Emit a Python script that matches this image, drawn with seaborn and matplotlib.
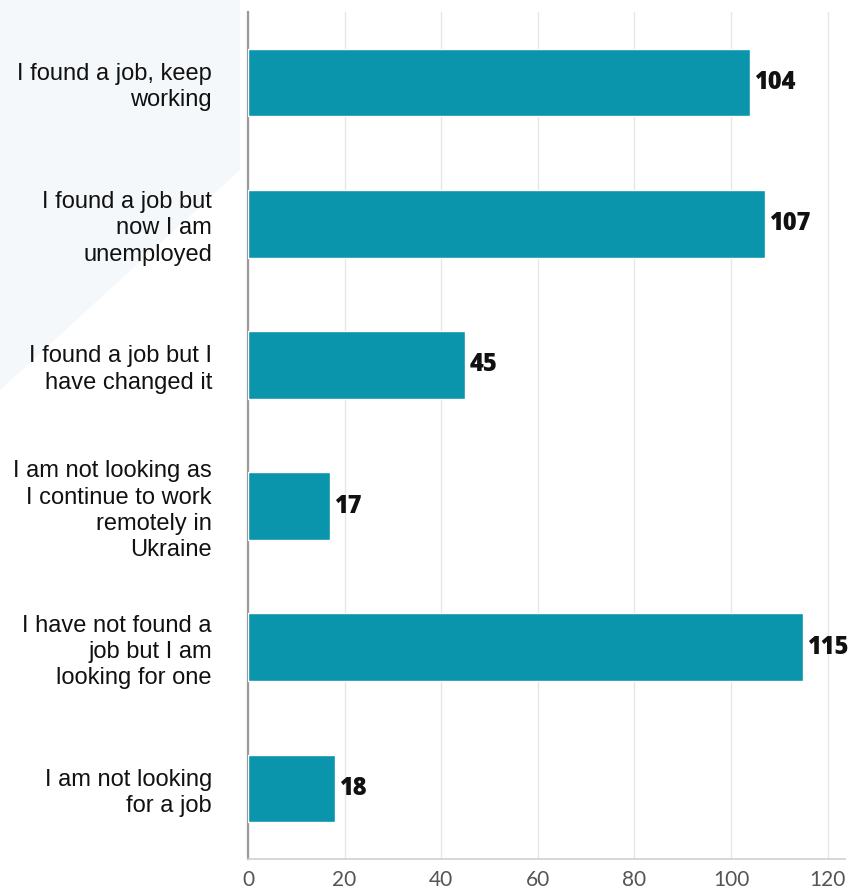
import matplotlib
matplotlib.use("Agg")
import matplotlib.pyplot as plt
from matplotlib.patches import Polygon
import seaborn as sns
import pandas as pd

categories = [
    "I found a job, keep\nworking",
    "I found a job but\nnow I am\nunemployed",
    "I found a job but I\nhave changed it",
    "I am not looking as\nI continue to work\nremotely in\nUkraine",
    "I have not found a\njob but I am\nlooking for one",
    "I am not looking\nfor a job",
]
counts = [104, 107, 45, 17, 115, 18]
x_ticks = [0, 20, 40, 60, 80, 100, 120]

df = pd.DataFrame({"answer": categories, "count": counts})

sns.set_theme(style="white")
plt.rcParams["font.family"] = ["Liberation Sans", "DejaVu Sans"]

W, H = 851, 896
fig = plt.figure(figsize=(W / 100, H / 100), dpi=100)
fig.patch.set_facecolor("white")

# faint decorative backdrop on the left
fig.patches.append(Polygon(
    [(0 / W, 1 - 0 / H), (240 / W, 1 - 0 / H), (240 / W, 1 - 170 / H), (0 / W, 1 - 390 / H)],
    closed=True, transform=fig.transFigure, facecolor="#f4f8fa", edgecolor="none", zorder=-5))

ax = fig.add_axes([248 / W, (H - 859) / H, 597 / W, 847 / H])
ax.set_facecolor("none")

sns.barplot(data=df, y="answer", x="count", orient="h", color="#0a95ac",
            saturation=1, width=0.48, ax=ax, zorder=3)

ax.set_xlim(0, 123.6)
ax.set_xticks(x_ticks)
ax.set_xticklabels([str(t) for t in x_ticks], fontsize=15, color="#555555",
                   family=["Lato", "DejaVu Sans"], fontweight="normal")
ax.set_xlabel("")
ax.set_ylabel("")
ax.grid(axis="x", color="#e6e6e6", linewidth=1, zorder=0)
ax.grid(axis="y", visible=False)

for lbl in ax.get_yticklabels():
    lbl.set_fontsize(17)
    lbl.set_color("#111111")
    lbl.set_linespacing(1.25)
    lbl.set_ha("right")
ax.tick_params(axis="y", length=0, pad=26)
ax.tick_params(axis="x", length=0, pad=8)

for s in ["top", "right"]:
    ax.spines[s].set_visible(False)
ax.spines["left"].set_color("#9a9a9a")
ax.spines["left"].set_linewidth(1.6)
ax.spines["bottom"].set_color("#cfcfcf")
ax.spines["bottom"].set_linewidth(1.2)

for i, v in enumerate(counts):
    ax.text(v + 0.8, i, str(v), va="center", ha="left", fontsize=17,
            fontweight="heavy", color="#111111", clip_on=False,
            family=["Open Sans", "DejaVu Sans"])

fig.savefig("out.png", dpi=100)
